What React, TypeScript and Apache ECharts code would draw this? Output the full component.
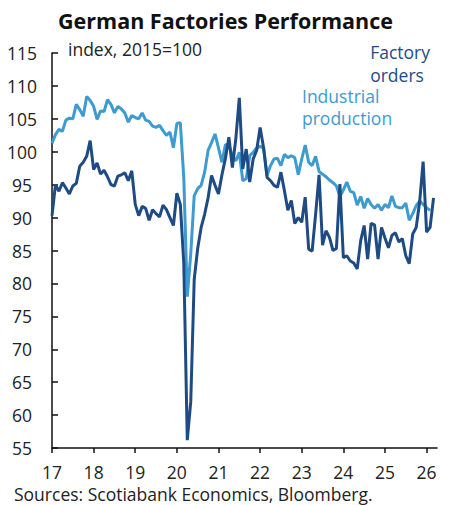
import React, { useEffect, useRef } from "react";
import * as echarts from "echarts";

// Monthly data starting Jan 2017 (year label 17)
const START_YEAR = 17;
const factoryOrders: number[] = [
  90.3, 95.0, 94.0, 95.3, 94.5, 93.6, 94.8, 95.2, 97.8, 98.4, 99.3, 101.7,
  97.3, 98.3, 96.6, 97.2, 96.2, 95.0, 94.8, 96.3, 96.5, 96.8, 95.6, 97.1,
  92.0, 90.3, 91.7, 91.4, 89.6, 91.2, 90.6, 90.1, 91.9, 91.2, 90.0, 88.8,
  93.7, 92.0, 83.0, 56.2, 62.0, 80.6, 85.3, 88.5, 90.5, 93.0, 96.4, 94.9,
  93.6, 96.5, 99.0, 102.2, 97.6, 102.0, 108.2, 97.4, 100.4, 95.4, 98.9, 100.2,
  103.7, 100.6, 96.1, 95.6, 94.9, 94.6, 96.9, 94.1, 91.1, 92.6, 89.1, 90.0,
  89.3, 93.1, 85.2, 84.9, 90.5, 96.5, 85.8, 88.0, 87.0, 85.0, 85.3, 95.1,
  83.9, 84.2, 83.4, 83.1, 82.2, 86.5, 88.8, 83.7, 89.1, 88.9, 83.7, 88.5,
  86.9, 85.4, 87.3, 87.7, 86.3, 86.8, 84.2, 83.0, 87.5, 88.5, 92.4, 98.5,
  87.8, 88.5, 93.0,
];
const industrialProduction: number[] = [
  101.3, 102.6, 103.4, 103.1, 104.8, 105.1, 105.0, 107.2, 106.4, 105.4, 108.4, 107.8,
  106.9, 104.9, 106.2, 106.1, 107.9, 107.2, 105.9, 106.9, 106.5, 105.9, 104.5, 105.5,
  105.2, 105.0, 105.9, 104.8, 104.6, 103.9, 103.7, 104.0, 103.2, 102.5, 103.0, 100.6,
  104.3, 104.4, 96.0, 78.0, 84.5, 93.3, 94.4, 94.9, 96.9, 100.2, 101.4, 102.7,
  100.6, 98.4, 101.1, 100.9, 99.5, 98.6, 99.9, 95.6, 95.9, 99.4, 99.9, 100.6,
  100.8, 100.6, 96.4, 97.9, 98.9, 99.0, 97.9, 99.6, 99.1, 99.4, 99.1, 96.5,
  98.9, 101.0, 98.4, 97.9, 99.3, 97.0, 96.6, 96.2, 95.7, 95.3, 94.8, 93.2,
  94.2, 95.4, 94.0, 93.8, 91.9, 93.2, 91.4, 92.9, 92.0, 91.4, 92.0, 91.1,
  92.0, 91.5, 93.3, 91.7, 91.5, 91.5, 92.2, 89.6, 90.6, 91.8, 92.5, 92.0,
  91.5, 91.1,
];
const xTickYears: number[] = [17, 18, 19, 20, 21, 22, 23, 24, 25, 26];
const yTicks: number[] = [55, 60, 65, 70, 75, 80, 85, 90, 95, 100, 105, 110, 115];

const toPoints = (vals: number[]) => vals.map((v, i) => [START_YEAR + i / 12, v]);

const FONT = "'Open Sans', sans-serif";
const DARK = "#1f4b84";
const LIGHT = "#3d9bd0";
const FS = 17.5;

export default function App() {
  const ref = useRef<HTMLDivElement>(null);
  useEffect(() => {
    if (!ref.current) return;
    const chart = echarts.init(ref.current, null, { renderer: "svg" });
    chart.setOption({
      animation: false,
      backgroundColor: "#ffffff",
      textStyle: { fontFamily: FONT },
      title: {
        text: "German Factories Performance",
        left: "center",
        top: 8,
        padding: 0,
        textStyle: { fontFamily: FONT, fontWeight: "bold", fontSize: 21.5, lineHeight: 24, color: "#111" },
      },
      grid: { left: 52, right: 14, top: 53, bottom: 57, containLabel: false },
      xAxis: {
        type: "value",
        min: 17,
        max: 26.25,
        splitLine: { show: false },
        axisLine: { show: true, onZero: false, lineStyle: { color: "#111", width: 1.5 } },
        axisTick: { show: true, inside: false, length: 5, lineStyle: { color: "#111", width: 1.5 }, customValues: xTickYears },
        axisLabel: {
          customValues: xTickYears,
          fontSize: FS,
          lineHeight: 14,
          color: "#222",
          margin: 17,
          fontFamily: FONT,
          formatter: (v: number) => String(Math.round(v)),
        },
      },
      yAxis: {
        type: "value",
        min: 55,
        max: 115,
        interval: 5,
        splitLine: { show: false },
        axisLine: { show: true, lineStyle: { color: "#111", width: 1.5 } },
        axisTick: { show: true, inside: true, length: 6, lineStyle: { color: "#111", width: 1.5 } },
        axisLabel: {
          fontSize: FS,
          color: "#222",
          margin: 30,
          align: "center",
          fontFamily: FONT,
          customValues: yTicks,
        },
      },
      series: [
        {
          name: "Industrial production",
          type: "line",
          data: toPoints(industrialProduction),
          showSymbol: false,
          lineStyle: { color: LIGHT, width: 3 },
          itemStyle: { color: LIGHT },
          z: 2,
        },
        {
          name: "Factory orders",
          type: "line",
          data: toPoints(factoryOrders),
          showSymbol: false,
          lineStyle: { color: DARK, width: 3 },
          itemStyle: { color: DARK },
          z: 3,
        },
      ],
      graphic: [
        {
          type: "text",
          left: 68,
          top: 40,
          style: { text: "index, 2015=100", font: `${FS}px ${FONT}`, fill: "#222", lineHeight: 18 },
        },
        {
          type: "text",
          right: 21,
          top: 40,
          style: { text: "Factory\norders", font: `${FS}px ${FONT}`, fill: DARK, align: "right", lineHeight: 23 },
        },
        {
          type: "text",
          left: 302,
          top: 85,
          style: { text: "Industrial\nproduction", font: `${FS}px ${FONT}`, fill: LIGHT, align: "center", lineHeight: 22 },
        },
        {
          type: "text",
          left: 14,
          top: 485,
          style: { text: "Sources: Scotiabank Economics, Bloomberg.", font: `${FS}px ${FONT}`, fill: "#222", lineHeight: 18 },
        },
      ],
    });
    return () => chart.dispose();
  }, []);
  return <div ref={ref} style={{ width: 451, height: 505, position: "absolute", left: 0, top: 0 }} />;
}
